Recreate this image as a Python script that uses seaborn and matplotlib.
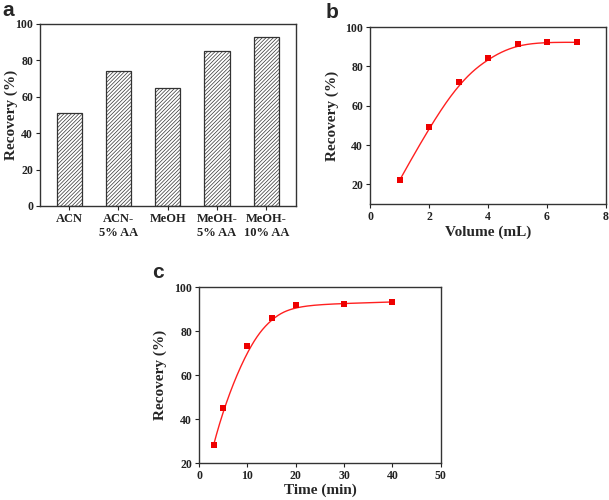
import numpy as np
import pandas as pd
import matplotlib
matplotlib.use("Agg")
import matplotlib.pyplot as plt
import seaborn as sns

# Data
solvents = ["ACN", "ACN-\n5% AA", "MeOH", "MeOH-\n5% AA", "MeOH-\n10% AA"]
solvent_recovery = [51, 74, 65, 85, 93]

volume_ml = [1, 2, 3, 4, 5, 6, 7]
volume_recovery = [22, 49, 72, 84, 91.5, 92.3, 92.2]

time_min = [3, 5, 10, 15, 20, 30, 40]
time_recovery = [28, 45, 73, 86, 92, 92.5, 93.2]

sns.set_style("ticks")
plt.rcParams["font.family"] = ["Liberation Serif", "DejaVu Serif"]
plt.rcParams["font.weight"] = "bold"
plt.rcParams["hatch.color"] = "#9a9a9a"
plt.rcParams["hatch.linewidth"] = 0.5


def bspline_curve(x, y, n=300):
    # clamped cubic B-spline with the measured points as control points
    # (same look as the "B-spline" line connection of the original software)
    pts = np.column_stack([x, y]).astype(float)
    k = 3
    m = len(pts)
    knots = np.concatenate([np.zeros(k), np.arange(m - k + 1), np.full(k, m - k)])
    t = np.linspace(0, m - k, n)
    t[-1] -= 1e-9
    basis = np.zeros((n, len(knots) - 1))
    for i in range(len(knots) - 1):
        basis[:, i] = (knots[i] <= t) & (t < knots[i + 1])
    for d in range(1, k + 1):
        new = np.zeros((n, len(knots) - 1 - d))
        for i in range(len(knots) - 1 - d):
            left = knots[i + d] - knots[i]
            right = knots[i + d + 1] - knots[i + 1]
            a = (t - knots[i]) / left * basis[:, i] if left > 0 else 0
            b = (knots[i + d + 1] - t) / right * basis[:, i + 1] if right > 0 else 0
            new[:, i] = a + b
        basis = new
    curve = basis @ pts
    return curve[:, 0], curve[:, 1]


def style_axes(ax, ylab_x):
    for s in ax.spines.values():
        s.set_color("#333333")
        s.set_linewidth(1.0)
    ax.tick_params(direction="out", length=3, width=0.8, labelsize=8.5,
                   colors="#222222", top=False, right=False, pad=2)
    for lab in ax.get_xticklabels() + ax.get_yticklabels():
        lab.set_fontweight("bold")
    ax.set_ylabel("Recovery (%)", fontsize=11, fontweight="bold")
    ax.yaxis.set_label_coords(ylab_x, 0.5)


fig = plt.figure(figsize=(6.09, 5.00), dpi=100)
ax_a = fig.add_axes([0.0657, 0.588, 0.420, 0.364])
ax_b = fig.add_axes([0.6076, 0.592, 0.3875, 0.354])
ax_c = fig.add_axes([0.3268, 0.074, 0.397, 0.352])

# Panel a: bar chart
df_a = pd.DataFrame({"solvent": solvents, "recovery": solvent_recovery})
sns.barplot(data=df_a, x="solvent", y="recovery", ax=ax_a, color="white",
            width=0.51, edgecolor="#333333", linewidth=0.9, hatch="/" * 9)
ax_a.set_xlim(-0.59, 4.6)
ax_a.set_ylim(0, 100)
ax_a.set_yticks([0, 20, 40, 60, 80, 100])
ax_a.set_xlabel("")
style_axes(ax_a, -0.086)
ax_a.tick_params(axis="x", labelsize=9)

# Panel b: recovery vs volume
xs, ys = bspline_curve(volume_ml, volume_recovery)
ax_b.plot(xs, ys, color="#ff2020", linewidth=1.0)
sns.scatterplot(x=volume_ml, y=volume_recovery, ax=ax_b, marker="s", s=14,
                color="#ee0000", edgecolor="#ee0000", linewidth=0, zorder=3)
ax_b.set_xlim(0, 8)
ax_b.set_ylim(10, 100)
ax_b.set_xticks([0, 2, 4, 6, 8])
ax_b.set_yticks([20, 40, 60, 80, 100])
ax_b.set_xlabel("Volume (mL)", fontsize=11, fontweight="bold")
ax_b.xaxis.set_label_coords(0.5, -0.158)
ax_b.xaxis.label.set_va("center")
style_axes(ax_b, -0.131)

# Panel c: recovery vs time
xs, ys = bspline_curve(time_min, time_recovery)
ax_c.plot(xs, ys, color="#ff2020", linewidth=1.0)
sns.scatterplot(x=time_min, y=time_recovery, ax=ax_c, marker="s", s=14,
                color="#ee0000", edgecolor="#ee0000", linewidth=0, zorder=3)
ax_c.set_xlim(0, 50)
ax_c.set_ylim(20, 100)
ax_c.set_xticks([0, 10, 20, 30, 40, 50])
ax_c.set_yticks([20, 40, 60, 80, 100])
ax_c.set_xlabel("Time (min)", fontsize=11, fontweight="bold")
ax_c.xaxis.set_label_coords(0.5, -0.153)
ax_c.xaxis.label.set_va("center")
style_axes(ax_c, -0.132)

# Panel letters
for letter, (px, py) in zip("abc", [(2, 10), (326, 12), (152, 273)]):
    fig.text(px / 609, 1 - py / 500, letter, fontsize=15, fontweight="bold",
             family=["Liberation Sans", "DejaVu Sans"], va="center", ha="left")

fig.savefig("out.png", dpi=100)
